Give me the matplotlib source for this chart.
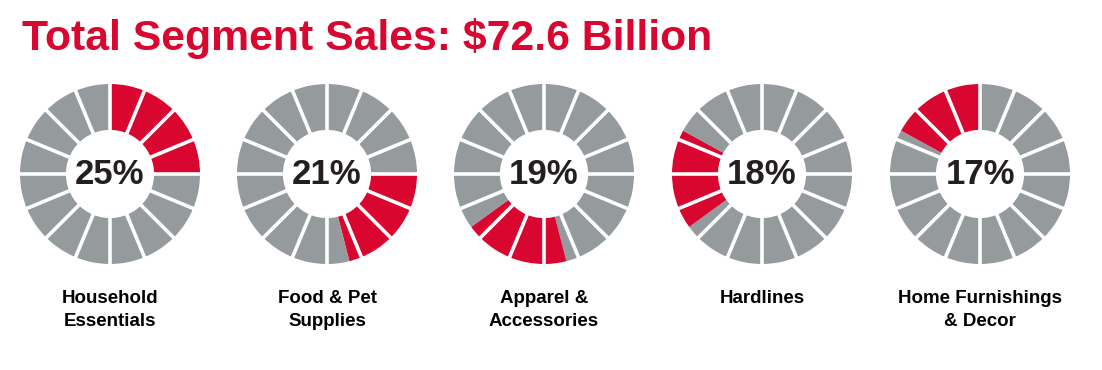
"""
Total segment sales donuts -> out.png
"""
import numpy as np
import matplotlib
matplotlib.use("Agg")
import matplotlib.pyplot as plt

RED = "#d9072f"
GRAY = "#959a9c"
INK = "#231f20"

title = "Total Segment Sales: $72.6 Billion"
segments = ["Household\nEssentials", "Food & Pet\nSupplies", "Apparel &\nAccessories",
            "Hardlines", "Home Furnishings\n& Decor"]
shares = [25, 21, 19, 18, 17]   # percent of total
n_ticks = 16                     # blocks per ring

plt.rcParams["font.family"] = ["Liberation Sans", "DejaVu Sans"]

W, H = 1102, 370
fig = plt.figure(figsize=(W / 100, H / 100), dpi=100)

fig.text(22 / W, 1 - 50 / H, title, color=RED, fontsize=30.8, fontweight="bold",
         ha="left", va="baseline")

starts = np.concatenate([[0], np.cumsum(shares)[:-1]])
centers_x = [110, 327, 544, 762, 980]
cy, r = 174, 90
step = 100 / n_ticks

for i, (name, share, s0) in enumerate(zip(segments, shares, starts)):
    cx = centers_x[i]
    ax = fig.add_axes([(cx - r) / W, 1 - (cy + r) / H, 2 * r / W, 2 * r / H])
    # split the ring at every block edge and at the share's start / end
    edges = sorted(set([round(k * step, 6) for k in range(n_ticks + 1)] + [s0, s0 + share]))
    sizes, colors = [], []
    for a, b in zip(edges[:-1], edges[1:]):
        if b - a <= 1e-9:
            continue
        sizes.append(b - a)
        colors.append(RED if (a >= s0 - 1e-9 and b <= s0 + share + 1e-9) else GRAY)
    ax.pie(sizes, colors=colors, startangle=90, counterclock=False, radius=1,
           wedgeprops=dict(width=0.51, linewidth=0, antialiased=True))
    # white gaps between blocks
    for k in range(n_ticks):
        th = np.pi / 2 - 2 * np.pi * k / n_ticks
        ax.plot([0.45 * np.cos(th), 1.05 * np.cos(th)],
                [0.45 * np.sin(th), 1.05 * np.sin(th)],
                color="white", lw=2.6, solid_capstyle="butt")
    ax.text(0, 0, f"{share}%", ha="center", va="center", fontsize=25,
            fontweight="bold", color=INK)
    ax.set_xlim(-1, 1)
    ax.set_ylim(-1, 1)
    ax.set_aspect("equal")
    ax.axis("off")

    fig.text(cx / W, 1 - 290 / H, name, ha="center", va="top", fontsize=13.5,
             fontweight="bold", color="black", linespacing=1.45)

fig.savefig("out.png", dpi=100)
